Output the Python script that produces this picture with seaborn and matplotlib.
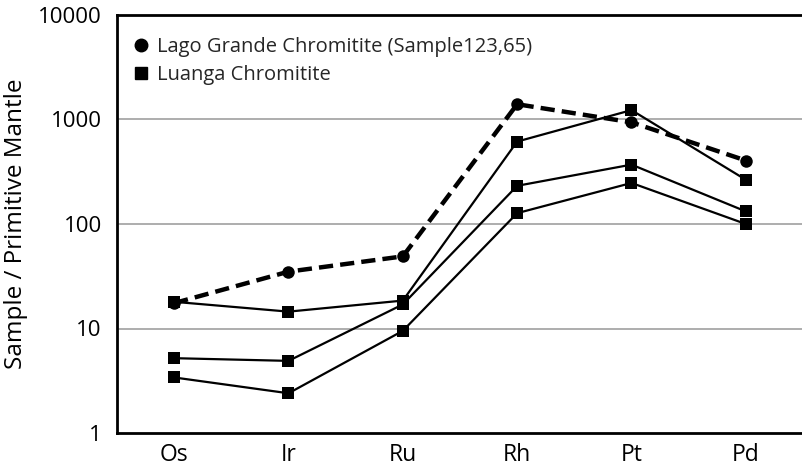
import matplotlib
matplotlib.use("Agg")
import matplotlib.pyplot as plt
import seaborn as sns
import pandas as pd
from matplotlib.ticker import FixedLocator, FixedFormatter, NullLocator
from matplotlib.lines import Line2D

elements = ["Os", "Ir", "Ru", "Rh", "Pt", "Pd"]
lago_grande = [17.5, 35, 49, 1400, 940, 405]
luanga_1 = [18, 14.5, 18.5, 615, 1230, 265]
luanga_2 = [5.2, 4.9, 17, 232, 370, 132]
luanga_3 = [3.4, 2.4, 9.5, 127, 247, 100]
yticks = [1, 10, 100, 1000, 10000]
ytick_labels = ["1", "10", "100", "1000", "10000"]
legend_labels = ["Lago Grande Chromitite (Sample123,65)", "Luanga Chromitite"]

sns.set_theme(style="white")
plt.rcParams['font.family'] = ['Open Sans', 'DejaVu Sans']

fig = plt.figure(figsize=(8.03, 4.69), dpi=100)
ax = fig.add_axes([117/803, 1 - 433/469, 1 - 117/803, (433 - 15)/469])

xpos = list(range(len(elements)))
for vals in [luanga_1, luanga_2, luanga_3]:
    df = pd.DataFrame({"x": xpos, "y": vals})
    sns.lineplot(data=df, x="x", y="y", ax=ax, color="black", lw=1.6,
                 marker="s", markersize=8, markeredgewidth=0, sort=False, zorder=3)
df = pd.DataFrame({"x": xpos, "y": lago_grande})
sns.lineplot(data=df, x="x", y="y", ax=ax, color="black", lw=3.2,
             linestyle=(0, (3.2, 1.6)), marker="o", markersize=9, markeredgewidth=0,
             sort=False, zorder=4)

ax.set_yscale("log")
ax.set_ylim(1, 10000)
ax.set_xlim(-0.4725, 5.42)
ax.yaxis.set_major_locator(FixedLocator(yticks))
ax.yaxis.set_major_formatter(FixedFormatter(ytick_labels))
ax.yaxis.set_minor_locator(NullLocator())
for y in yticks[1:-1]:
    ax.axhline(y, color="#a0a0a0", lw=1.2, zorder=1)

ax.set_xticks(xpos)
ax.set_xticklabels(elements)
ax.set_xticks([-0.5 + i for i in range(7)], minor=True)
ax.tick_params(axis="x", which="major", direction="in", length=17, width=1.3,
               color="black", labelsize=16.5, pad=7)
ax.tick_params(axis="x", which="minor", direction="out", length=3, width=1, color="#a0a0a0")
ax.tick_params(axis="y", which="major", direction="out", length=4, width=1.2,
               color="#a0a0a0", labelsize=16, pad=7)
for lbl in ax.get_xticklabels() + ax.get_yticklabels():
    lbl.set_color("black")

for s in ["left", "bottom", "top"]:
    ax.spines[s].set_visible(True)
    ax.spines[s].set_color("black")
    ax.spines[s].set_linewidth(2)
ax.spines["right"].set_visible(False)

ax.set_xlabel("")
ax.set_ylabel("Sample / Primitive Mantle", fontsize=17.5, labelpad=7, color="black")

handles = [Line2D([], [], color="black", marker="o", linestyle="none", markersize=9),
           Line2D([], [], color="black", marker="s", linestyle="none", markersize=8)]
ax.legend(handles, legend_labels, loc="upper left", frameon=False, fontsize=14.5,
          handlelength=0.6, handletextpad=0.5, labelspacing=0.4,
          bbox_to_anchor=(0.0, 0.99), borderaxespad=0.5)

fig.savefig("out.png", dpi=100)
